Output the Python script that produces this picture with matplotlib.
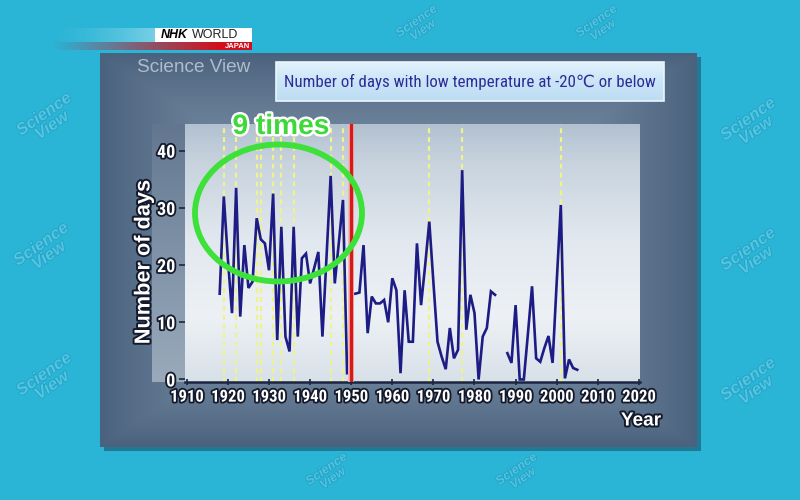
import numpy as np
import matplotlib
matplotlib.use("Agg")
import matplotlib.pyplot as plt
from matplotlib import font_manager
from matplotlib.patches import Ellipse, Rectangle
import matplotlib.patheffects as pe

# ---------------- data ----------------
years = list(range(1918, 2006))
days = [15.0, 32.0, 21.0, 11.6, 33.5, 11.0, 23.5, 16.0, 17.1, 28.2,
        24.5, 23.8, 19.1, 32.5, 6.9, 26.7, 7.5, 4.9, 26.7, 7.5,
        21.2, 22.0, 16.8, 19.5, 22.3, 7.5, 21.5, 35.6, 16.8, 24.0,
        31.4, 1.1, np.nan, 15.0, 15.2, 23.5, 8.1, 14.5, 13.3, 13.3,
        13.9, 10.0, 17.7, 15.6, 1.1, 15.6, 6.6, 6.6, 23.8, 13.0,
        20.0, 27.6, 17.0, 6.6, 4.0, 1.8, 9.0, 3.7, 5.2, 36.6,
        8.7, 14.8, 11.6, 0.0, 7.5, 9.0, 15.4, 14.8, np.nan, np.nan,
        4.6, 2.9, 13.0, 0.0, 0.0, 8.0, 16.3, 3.7, 3.1, 5.5,
        7.6, 2.9, 17.0, 30.5, 0.2, 3.5, 2.0, 1.7]
yellow_years = [1919, 1922, 1927, 1928, 1931, 1933, 1936, 1945, 1948,
                1969, 1977, 2001]
red_year = 1950
x_ticks = list(range(1910, 2021, 10))
y_ticks = [0, 10, 20, 30, 40]
title = "Number of days with low temperature at -20\u2103 or below"
y_label = "Number of days"
x_label = "Year"
note = "9 times"
brand_top = "NHK"
brand_mid = "WORLD"
brand_sub = "JAPAN"
program = "Science View"
watermark = "Science\nView"

# ---------------- fonts ----------------
names = {f.name for f in font_manager.fontManager.ttflist}
cond = None
for n in ["Liberation Sans Narrow", "Roboto Condensed", "Open Sans Condensed",
          "Noto Sans Condensed", "DejaVu Sans Condensed"]:
    if n in names:
        cond = n
        break
base = "Liberation Sans" if "Liberation Sans" in names else "DejaVu Sans"
cond_fam = [cond or base, "DejaVu Sans", "Noto Sans CJK JP"]

W, H = 800, 500
fig = plt.figure(figsize=(8, 5), dpi=100)
fig.patch.set_facecolor("#2ab4d6")


def hexrgb(h):
    h = h.lstrip("#")
    return np.array([int(h[i:i + 2], 16) for i in (0, 2, 4)]) / 255.0


def vgrad(stops, n=256):
    pos = np.array([s[0] for s in stops])
    cols = np.array([hexrgb(s[1]) for s in stops])
    t = np.linspace(0, 1, n)
    return np.stack([np.interp(t, pos, cols[:, k]) for k in range(3)], axis=1)


# ---------------- background axes (pixel coords) ----------------
bg = fig.add_axes([0, 0, 1, 1], zorder=0)
bg.set_xlim(0, W)
bg.set_ylim(H, 0)
bg.axis("off")
bg.add_patch(Rectangle((0, 0), W, H, color="#2ab4d6", zorder=0))

# watermark logos (kept fully inside the picture)
wm_pos = [(48, 120), (45, 250), (48, 380), (752, 125), (752, 255),
          (752, 385), (420, 26), (600, 26), (330, 474), (520, 474)]
for i, (px, py) in enumerate(wm_pos):
    fs = 9 if (py < 40 or py > 460) else 12
    bg.text(px, py, watermark, rotation=35, ha="center", va="center",
            fontsize=fs, fontweight="bold", style="italic", color="#5fcbe6",
            alpha=0.75, family=base, linespacing=0.9, zorder=0.5,
            path_effects=[pe.withStroke(linewidth=1.2, foreground="#1f9fc3")])

# panel shadow
bg.add_patch(Rectangle((104, 57), 597, 394, color="#1b4a63", alpha=0.55,
                       zorder=0.9, lw=0))
# panel with gradient
ny, nx = 200, 300
yy, xx = np.mgrid[0:1:ny * 1j, 0:1:nx * 1j]
d = np.maximum(np.abs(xx - 0.5) * 2, np.abs(yy - 0.5) * 2)
t = np.clip(d, 0, 1) ** 2.0
inner = hexrgb("#8196ab")
outer = hexrgb("#4b627e")
panel = inner * (1 - t)[..., None] + outer * t[..., None]
bg.imshow(panel, extent=[100, 697, 447, 53], zorder=1, interpolation="bicubic",
          aspect="auto")

# left strip behind y tick labels
strip = vgrad([(0, "#62778f"), (0.5, "#7f92a7"), (1, "#9aaabb")])[:, None, :]
bg.imshow(strip, extent=[152, 186, 382, 124], zorder=2, aspect="auto")

bg.set_xlim(0, W)
bg.set_ylim(H, 0)

# ---------------- main plot axes ----------------
x0, x1, ytop, ybot = 185, 640, 124, 382
ax = fig.add_axes([x0 / W, 1 - ybot / H, (x1 - x0) / W, (ybot - ytop) / H],
                  zorder=5)
xl = (1909.56, 2020.27)
yl = (-0.44, 44.67)
plot_bg = vgrad([(0, "#b2c1d0"), (0.15, "#c8d3de"), (0.45, "#e2e8ef"),
                 (0.75, "#edf1f5"), (1, "#d8e0e8")])[:, None, :]
ax.imshow(plot_bg, extent=[xl[0], xl[1], yl[0], yl[1]], aspect="auto",
          zorder=0, origin="upper")
for yr in yellow_years:
    ax.axvline(yr, color="#eef38c", lw=1.6, ls=(0, (2.2, 1.8)), zorder=2)
ax.plot(years, days, color="#1c1c84", lw=1.9, zorder=3, solid_joinstyle="miter")
ax.axvline(red_year, color="#d61a1a", lw=2.4, zorder=4,
           path_effects=[pe.Stroke(linewidth=4.2, foreground="#f2b4b4"),
                         pe.Normal()])
ax.set_xlim(*xl)
ax.set_ylim(*yl)
ax.set_xticks(x_ticks)
ax.set_yticks(y_ticks)
for s in ["top", "right", "left"]:
    ax.spines[s].set_visible(False)
ax.spines["bottom"].set_color("#1b2540")
ax.spines["bottom"].set_linewidth(1.8)
ax.tick_params(axis="x", direction="inout", length=5, width=1.2,
               color="#1b2540", pad=3)
ax.tick_params(axis="y", direction="out", length=4, width=1.2,
               color="#1b2540", pad=3)
tick_font = dict(family=[cond or base, "DejaVu Sans"], weight="bold")
for lbl in ax.get_xticklabels():
    lbl.set(color="white", fontsize=12 if cond else 10.5, **tick_font)
    lbl.set_path_effects([pe.withStroke(linewidth=2.6, foreground="#141a2c")])
for lbl in ax.get_yticklabels():
    lbl.set(color="white", fontsize=13 if cond else 11.5, **tick_font)
    lbl.set_path_effects([pe.withStroke(linewidth=2.6, foreground="#141a2c")])

# ---------------- overlay (pixel coords) ----------------
ov = fig.add_axes([0, 0, 1, 1], zorder=10)
ov.set_xlim(0, W)
ov.set_ylim(H, 0)
ov.axis("off")
ov.patch.set_alpha(0)

# y label and x label
ylab = ov.text(144, 262, y_label, rotation=90, ha="center", va="center",
               color="white", fontsize=13, fontweight="bold", family=base,
               path_effects=[pe.withStroke(linewidth=2.8, foreground="#141a2c")])
xlab = ov.text(641, 421, x_label, ha="center", va="center", color="white",
               fontsize=13, fontweight="bold", family=base,
               path_effects=[pe.withStroke(linewidth=2.8, foreground="#141a2c")])

# green ellipse + note
ov.add_patch(Ellipse((278.5, 213), 167, 137, fill=False, ec="#3ee03a",
                     lw=4.2, zorder=5))
note_t = ov.text(281, 127, note, ha="center", va="center", color="#3ed83a",
                 fontsize=17, fontweight="bold", family=base, zorder=6,
                 path_effects=[pe.withStroke(linewidth=3.5, foreground="white")])

# title box
tb = vgrad([(0, "#e2f2fc"), (0.5, "#cbe5f7"), (1, "#bcdcf3")])[:, None, :]
ov.imshow(tb, extent=[276, 664, 101, 62], aspect="auto", zorder=2)
ov.add_patch(Rectangle((276, 62), 388, 39, fill=False, ec="#eaf6fd", lw=1.2,
                       zorder=3))
title_t = ov.text(470, 82, title, ha="center", va="center", color="#2e2b98",
                  fontsize=14, family=cond_fam, zorder=4)

# program name
prog_t = ov.text(137, 67, program, ha="left", va="center", color="#aebdcb",
                 fontsize=12, family=base, zorder=4)

# NHK WORLD logo
fade = np.zeros((2, 200, 4))
fade[..., :3] = 1.0
fade[..., 3] = np.linspace(0, 1, 200) ** 1.6
ov.imshow(fade, extent=[45, 252, 42, 28], aspect="auto", zorder=2)
redf = np.zeros((2, 200, 4))
redf[..., :3] = hexrgb("#d2101c")
redf[..., 3] = np.clip(np.linspace(-0.1, 1.2, 200), 0, 1)
ov.imshow(redf, extent=[35, 252, 50, 42], aspect="auto", zorder=2)
ov.add_patch(Rectangle((155, 28), 97, 14, color="white", zorder=3, lw=0))
ov.text(161, 35.5, brand_top, ha="left", va="center", color="black",
        fontsize=9, fontweight="bold", style="italic", family=base, zorder=4)
ov.text(192, 35.5, brand_mid, ha="left", va="center", color="#222222",
        fontsize=9, family=base, zorder=4)
ov.text(250, 46.3, brand_sub, ha="right", va="center", color="white",
        fontsize=5.5, fontweight="bold", family=base, zorder=4)

ov.set_xlim(0, W)
ov.set_ylim(H, 0)


# ---------------- fit text widths to reference ----------------
def fit(txt, target, vertical=False):
    fig.canvas.draw()
    r = fig.canvas.get_renderer()
    bb = txt.get_window_extent(r)
    cur = bb.height if vertical else bb.width
    if cur > 0:
        txt.set_fontsize(txt.get_fontsize() * target / cur)


fit(title_t, 374)
fit(ylab, 164, vertical=True)
fit(prog_t, 114)
fit(note_t, 97)
fit(xlab, 40)

fig.savefig("out.png", dpi=100, facecolor=fig.get_facecolor())
